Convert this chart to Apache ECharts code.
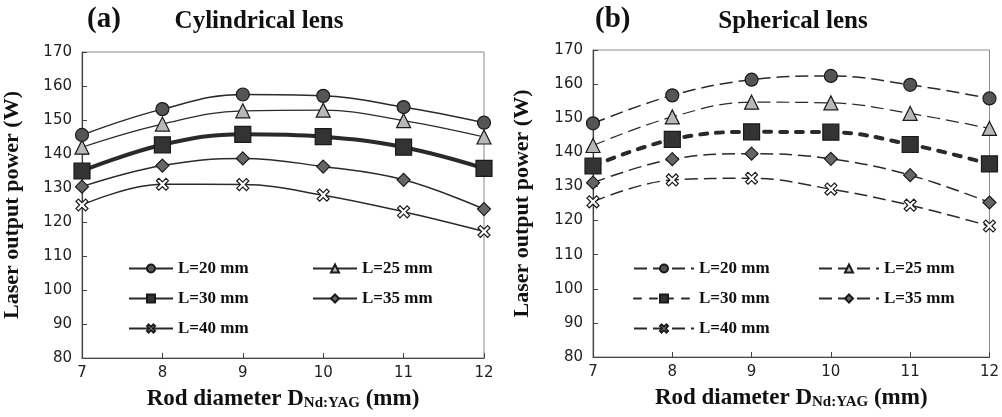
<!DOCTYPE html>
<html>
<head>
<meta charset="utf-8">
<script src="https://cdn.jsdelivr.net/npm/echarts@6/dist/echarts.min.js"></script>
<style>
  html, body { margin: 0; padding: 0; background: #fff; }
  #main { width: 1002px; height: 417px; }
</style>
</head>
<body>
<div id="main"></div>
<script>
// rod diameter (mm)
var diameters = [7, 8, 9, 10, 11, 12];
var seriesNames = ['L=20 mm', 'L=25 mm', 'L=30 mm', 'L=35 mm', 'L=40 mm'];

// (a) cylindrical lens, output power (W)
var cylL20 = [145.6, 153.2, 157.5, 157.1, 153.8, 149.2];
var cylL25 = [142.0, 148.8, 152.7, 152.9, 149.8, 145.0];
var cylL30 = [135.0, 142.7, 145.8, 145.1, 142.0, 135.8];
var cylL35 = [130.4, 136.6, 138.7, 136.3, 132.4, 123.8];
var cylL40 = [125.0, 131.1, 131.0, 127.9, 123.0, 117.2];

// (b) spherical lens, output power (W)
var sphL20 = [148.5, 156.7, 161.3, 162.4, 159.8, 155.8];
var sphL25 = [142.0, 150.4, 154.7, 154.5, 151.4, 147.0];
var sphL30 = [136.0, 143.8, 146.0, 145.9, 142.3, 136.6];
var sphL35 = [131.1, 138.0, 139.6, 138.1, 133.3, 125.3];
var sphL40 = [125.5, 131.9, 132.4, 129.2, 124.5, 118.4];

var yTicks = { min: 80, max: 170, step: 10 };
var xTicks = { min: 7, max: 12, step: 1 };

var cylData = [cylL20, cylL25, cylL30, cylL35, cylL40];
var sphData = [sphL20, sphL25, sphL30, sphL35, sphL40];

var crossPath = 'path://M0,2 L2,0 L5,3 L8,0 L10,2 L7,5 L10,8 L8,10 L5,7 L2,10 L0,8 L3,5 Z';

// marker look for each L
var markers = [
    { symbol: 'circle', size: 13, fill: '#555555' },
    { symbol: 'triangle', size: 14, fill: '#b8b8b8' },
    { symbol: 'rect', size: 16, fill: '#333333' },
    { symbol: 'diamond', size: 13, fill: '#666666' },
    { symbol: crossPath, size: 12, fill: '#ffffff' }
];
var lineWidths = [1.5, 1.2, 4, 1.5, 1.5];
var dashTypes = [[13, 6], [13, 6], [7, 9], [13, 6], [13, 6]];

function pairs(arr) {
    var out = [];
    for (var i = 0; i < diameters.length; i++) {
        out.push([diameters[i], arr[i]]);
    }
    return out;
}

var serifFont = '"Liberation Serif", "Times New Roman", serif';
var tickFont = '"DejaVu Sans", Verdana, sans-serif';

function makeGrid(left, right, top, bottom) {
    return {
        left: left, right: right, top: top, bottom: bottom,
        show: true, borderColor: '#8a8a8a', borderWidth: 1, backgroundColor: 'transparent'
    };
}

function makeXAxis(gridIndex) {
    return {
        type: 'value', gridIndex: gridIndex,
        min: xTicks.min, max: xTicks.max, interval: xTicks.step,
        name: '{a|Rod diameter D}{s|Nd:YAG}{a| (mm)}',
        nameLocation: 'middle', nameGap: 29,
        nameTextStyle: {
            rich: {
                a: { fontFamily: serifFont, fontWeight: 'bold', fontSize: 23, color: '#111' },
                s: { fontFamily: serifFont, fontWeight: 'bold', fontSize: 15, color: '#111', padding: [9, 0, 0, 0] }
            }
        },
        axisLine: { lineStyle: { color: '#444', width: 1.2 } },
        axisTick: { inside: true, length: 5, lineStyle: { color: '#444' } },
        axisLabel: { fontFamily: tickFont, fontSize: 15, color: '#222', margin: 8 },
        splitLine: { show: false }
    };
}

function makeYAxis(gridIndex, gap) {
    return {
        type: 'value', gridIndex: gridIndex,
        min: yTicks.min, max: yTicks.max, interval: yTicks.step,
        name: 'Laser output power (W)',
        nameLocation: 'middle', nameGap: gap, nameRotate: 90,
        nameTextStyle: { fontFamily: serifFont, fontWeight: 'bold', fontSize: 22, color: '#111' },
        axisLine: { show: true, lineStyle: { color: '#444', width: 1.2 } },
        axisTick: { show: true, inside: true, length: 5, lineStyle: { color: '#444' } },
        axisLabel: { fontFamily: tickFont, fontSize: 15, color: '#222', margin: 10 },
        splitLine: { show: false }
    };
}

var series = [];
for (var i = 0; i < 5; i++) {
    series.push({
        name: seriesNames[i],
        type: 'line', xAxisIndex: 0, yAxisIndex: 0,
        smooth: 0.4,
        data: pairs(cylData[i]),
        symbol: markers[i].symbol, symbolSize: markers[i].size,
        lineStyle: { color: '#2a2a2a', width: lineWidths[i] },
        itemStyle: { color: markers[i].fill, borderColor: '#1a1a1a', borderWidth: 1.2 },
        z: 5 - i
    });
}
for (var j = 0; j < 5; j++) {
    series.push({
        name: seriesNames[j] + ' ',
        type: 'line', xAxisIndex: 1, yAxisIndex: 1,
        smooth: 0.4,
        data: pairs(sphData[j]),
        symbol: markers[j].symbol, symbolSize: markers[j].size,
        lineStyle: { color: '#2a2a2a', width: lineWidths[j], type: dashTypes[j], cap: j === 2 ? 'round' : 'butt' },
        itemStyle: { color: markers[j].fill, borderColor: '#1a1a1a', borderWidth: 1.2 },
        z: 5 - j
    });
}

// one legend per item so columns line up as in the figure
var legendSpots = [
    { left: 123, top: 255 }, { left: 307, top: 255 },
    { left: 123, top: 285 }, { left: 307, top: 285 },
    { left: 123, top: 315 }
];
var legendSpotsB = [
    { left: 628, top: 255 }, { left: 813, top: 255 },
    { left: 628, top: 285 }, { left: 813, top: 285 },
    { left: 628, top: 315 }
];
var legends = [];
for (var k = 0; k < 5; k++) {
    legends.push({
        data: [seriesNames[k]], left: legendSpots[k].left, top: legendSpots[k].top,
        itemWidth: 44, itemHeight: 10, selectedMode: false,
        textStyle: { fontFamily: serifFont, fontWeight: 'bold', fontSize: 17, color: '#111' }
    });
    legends.push({
        data: [seriesNames[k] + ' '], left: legendSpotsB[k].left, top: legendSpotsB[k].top,
        itemWidth: 60, itemHeight: 10, selectedMode: false,
        formatter: function (name) { return name.trim(); },
        textStyle: { fontFamily: serifFont, fontWeight: 'bold', fontSize: 17, color: '#111' }
    });
}

var chart = echarts.init(document.getElementById('main'));
var option = {
    animation: false,
    backgroundColor: '#fff',
    title: [
        { text: '(a)', left: 82, top: 0, textStyle: { fontFamily: serifFont, fontWeight: 'bold', fontSize: 29, color: '#111' } },
        { text: 'Cylindrical lens', left: 254, top: 4, textAlign: 'center', textStyle: { fontFamily: serifFont, fontWeight: 'bold', fontSize: 25, color: '#111' } },
        { text: '(b)', left: 590, top: 0, textStyle: { fontFamily: serifFont, fontWeight: 'bold', fontSize: 29, color: '#111' } },
        { text: 'Spherical lens', left: 788, top: 4, textAlign: 'center', textStyle: { fontFamily: serifFont, fontWeight: 'bold', fontSize: 25, color: '#111' } }
    ],
    legend: legends,
    grid: [makeGrid(79, 518, 52, 59), makeGrid(593, 7, 50, 60)],
    xAxis: [makeXAxis(0), makeXAxis(1)],
    yAxis: [makeYAxis(0, 59), makeYAxis(1, 60)],
    series: series
};
chart.setOption(option);
</script>
</body>
</html>
